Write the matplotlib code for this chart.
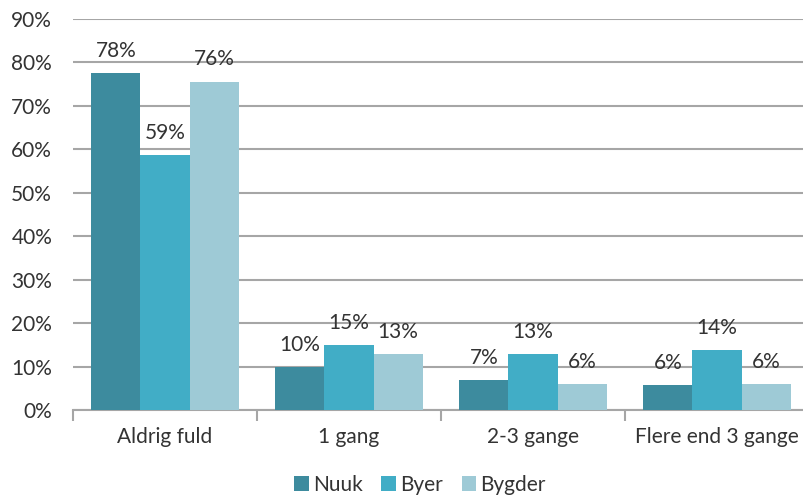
import matplotlib
matplotlib.use("Agg")
import matplotlib.pyplot as plt
import numpy as np

categories = ['Aldrig fuld', '1 gang', '2-3 gange', 'Flere end 3 gange']
series = ['Nuuk', 'Byer', 'Bygder']
nuuk = [78, 10, 7, 6]
byer = [59, 15, 13, 14]
bygder = [76, 13, 6, 6]
# exact heights (labels are rounded)
nuuk_h = [77.6, 9.8, 6.9, 5.7]
byer_h = [58.6, 15.0, 12.8, 13.7]
bygder_h = [75.6, 12.8, 5.9, 5.9]
colors = ['#3d8b9e', '#41adc6', '#9ecad6']

plt.rcParams['font.family'] = ['Lato', 'DejaVu Sans']
txt = '#333333'
fs = 15

fig = plt.figure(figsize=(8.04, 4.95), dpi=100)
ax = fig.add_axes([73 / 804, 85 / 495, 736 / 804, 391 / 495])

x = np.arange(len(categories))
w = 0.8 / 3
heights = [nuuk_h, byer_h, bygder_h]
labels = [nuuk, byer, bygder]
for i in range(3):
    pos = x + (i - 1) * w
    ax.bar(pos, heights[i], w, color=colors[i], label=series[i], zorder=3)
    for px, h, lab in zip(pos, heights[i], labels[i]):
        ax.annotate(f'{lab}%', (px, h), xytext=(0, 16), textcoords='offset points',
                    ha='center', va='center', fontsize=fs, color=txt, zorder=4)

ax.set_xlim(-0.5, 3.5)
ax.set_ylim(0, 90)
ax.set_yticks(range(0, 91, 10))
ax.set_yticklabels([f'{v}%' for v in range(0, 91, 10)], fontsize=fs, color=txt)
ax.yaxis.grid(True, color='#a6a6a6', linewidth=1.5, zorder=0)
ax.tick_params(axis='y', length=0, pad=15)

ax.set_xticks(x)
ax.set_xticklabels(categories, fontsize=fs, color=txt)
ax.tick_params(axis='x', length=0, pad=12)
ax.set_xticks(np.arange(-0.5, 4, 1), minor=True)
ax.tick_params(axis='x', which='minor', length=8, width=1.5, color='#a6a6a6')

for s in ['top', 'right', 'left']:
    ax.spines[s].set_visible(False)
ax.spines['bottom'].set_color('#a6a6a6')
ax.spines['bottom'].set_linewidth(1.5)

fig.legend(loc='center', bbox_to_anchor=(420 / 804, 10 / 495), ncol=3, frameon=False,
           fontsize=fs, handlelength=0.7, handleheight=0.7, handletextpad=0.2,
           columnspacing=0.9, labelcolor=txt)

fig.savefig('out.png', dpi=100)
